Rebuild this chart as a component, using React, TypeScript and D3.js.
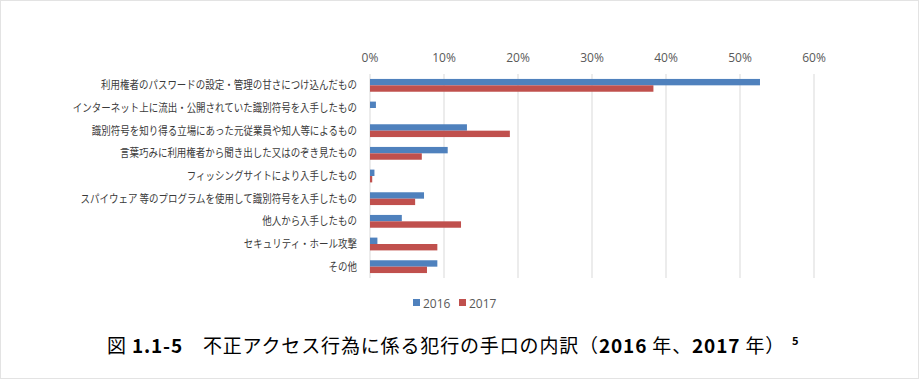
import React from "react";
import * as d3 from "d3";

const categories = [
  "利用権者のパスワードの設定・管理の甘さにつけ込んだもの",
  "インターネット上に流出・公開されていた識別符号を入手したもの",
  "識別符号を知り得る立場にあった元従業員や知人等によるもの",
  "言葉巧みに利用権者から聞き出した又はのぞき見たもの",
  "フィッシングサイトにより入手したもの",
  "スパイウェア 等のプログラムを使用して識別符号を入手したもの",
  "他人から入手したもの",
  "セキュリティ・ホール攻撃",
  "その他",
];
const seriesNames = ["2016", "2017"];
const values2016 = [0.527, 0.008, 0.131, 0.105, 0.006, 0.073, 0.043, 0.01, 0.091];
const values2017 = [0.383, 0, 0.189, 0.07, 0.003, 0.061, 0.123, 0.091, 0.077];
const tickValues = [0, 0.1, 0.2, 0.3, 0.4, 0.5, 0.6];
const colors = ["#4F81BD", "#C0504D"];

const W = 920;
const H = 380;

export default function App() {
  const x = d3.scaleLinear().domain([0, 0.6]).range([370, 814]);
  const y = d3.scaleBand<string>().domain(categories).range([74, 278]);
  const barH = 6.4;
  const fmt = d3.format(".0%");
  const series = [values2016, values2017];
  const labelFont = "'Noto Sans CJK JP', sans-serif";

  return (
    <svg
      width={W}
      height={H}
      style={{ position: "absolute", left: 0, top: 0, background: "#fff" }}
    >
      <rect x={0.5} y={0.5} width={W - 2} height={H - 2} fill="#fff" stroke="#e3e3e3" />
      {tickValues.map((t) => (
        <line
          key={t}
          x1={x(t)}
          x2={x(t)}
          y1={y.range()[0]}
          y2={y.range()[1]}
          stroke="#d9d9d9"
          strokeWidth={1}
        />
      ))}
      {tickValues.map((t) => (
        <text
          key={"t" + t}
          x={x(t)}
          y={62}
          textAnchor="middle"
          fontSize={12}
          fill="#595959"
          fontFamily="'Open Sans', sans-serif"
        >
          {fmt(t)}
        </text>
      ))}
      {categories.map((c, i) => {
        const cy = (y(c) as number) + y.bandwidth() / 2;
        return (
          <g key={c}>
            {series.map((s, k) => (
              <rect
                key={k}
                x={x(0)}
                y={cy - barH + k * barH}
                width={Math.max(0, x(s[i]) - x(0))}
                height={barH}
                fill={colors[k]}
              />
            ))}
            <text
              transform={`translate(357,${cy + 4}) scale(0.84,1)`}
              textAnchor="end"
              fontSize={11.3}
              fill="#3a3a3a"
              fontFamily={labelFont}
            >
              {c}
            </text>
          </g>
        );
      })}
      {seriesNames.map((n, k) => (
        <g key={n} transform={`translate(${413 + k * 46},0)`}>
          <rect x={0} y={299} width={7} height={7} fill={colors[k]} />
          <text
            x={10}
            y={307.5}
            fontSize={12}
            fill="#595959"
            fontFamily="'Open Sans', sans-serif"
          >
            {n}
          </text>
        </g>
      ))}
      <text
        x={107}
        y={353}
        fontSize={19}
        fill="#000"
        fontFamily={labelFont}
        letterSpacing={0.85}
      >
        <tspan>図 </tspan>
        <tspan fontWeight="bold">1.1-5</tspan>
        <tspan>　不正アクセス行為に係る犯行の手口の内訳（</tspan>
        <tspan fontWeight="bold">2016</tspan>
        <tspan> 年、</tspan>
        <tspan fontWeight="bold">2017</tspan>
        <tspan> 年）</tspan>
      </text>
      <text x={792} y={345} fontSize={11} fontWeight="bold" fontFamily={labelFont}>
        5
      </text>
    </svg>
  );
}
